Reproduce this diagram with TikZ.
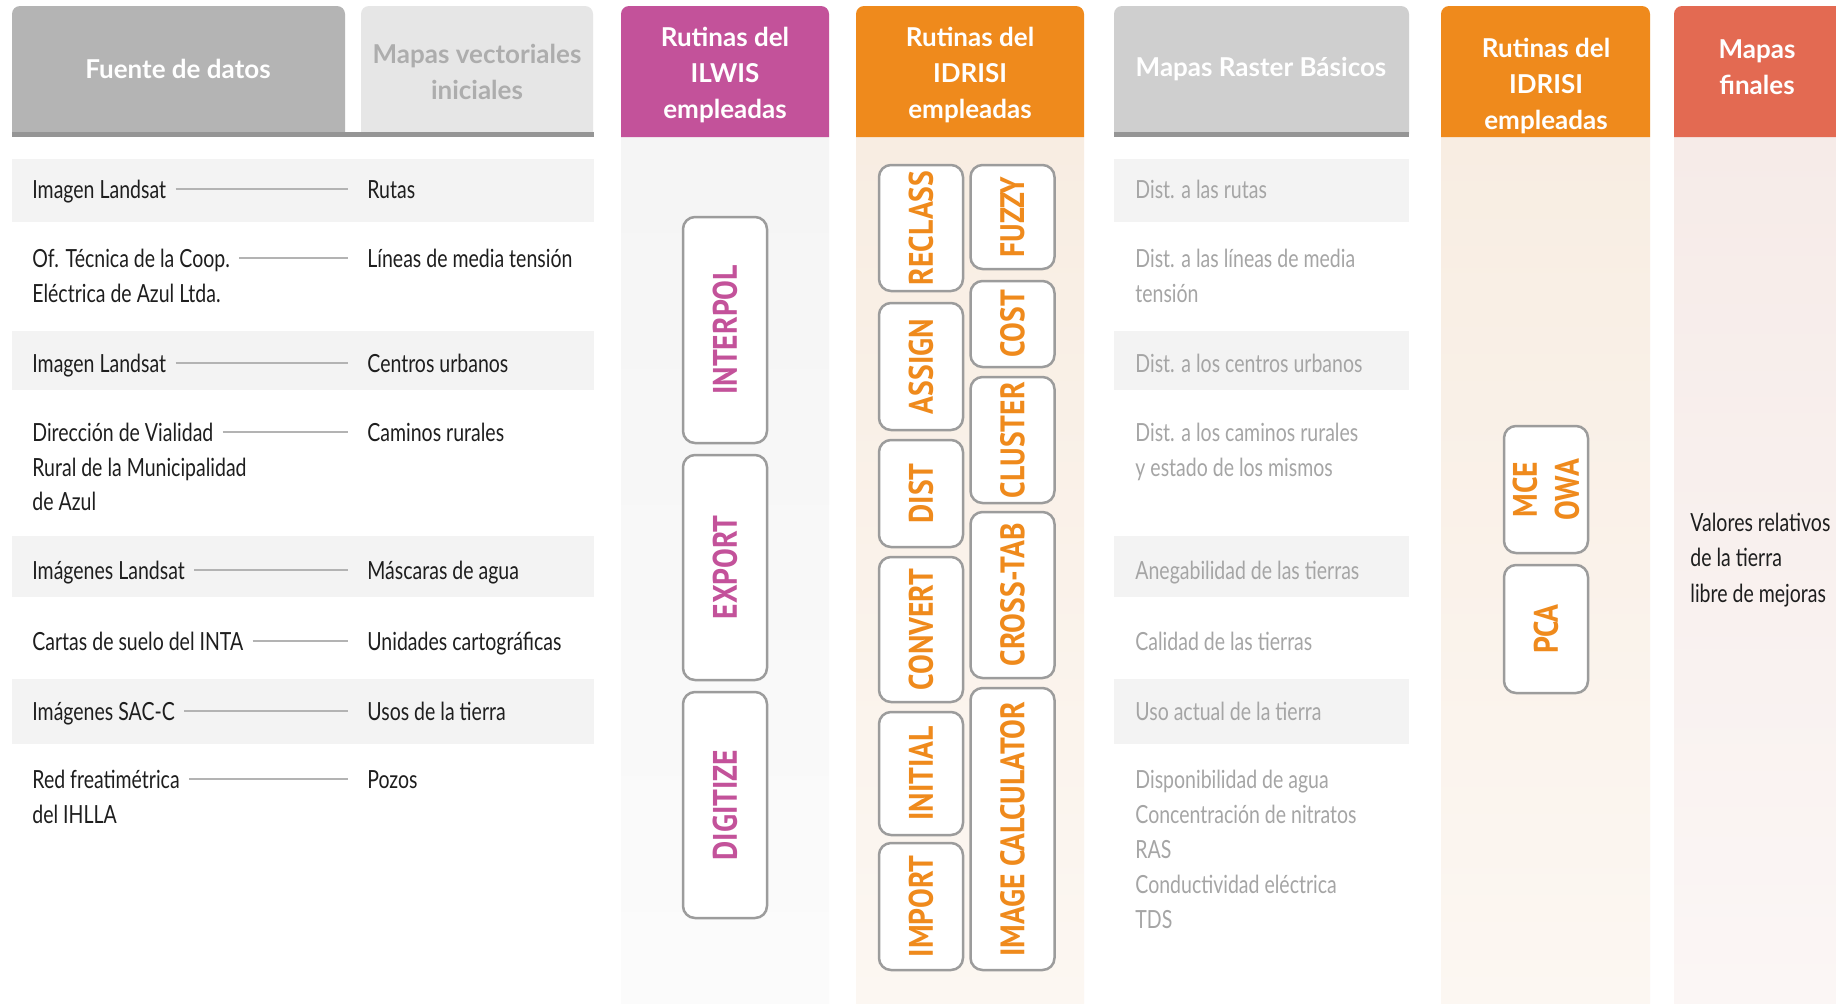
\documentclass[tikz,border=0pt]{standalone}
\usepackage{fontspec}
\newfontfamily\bodyf{Lato}[FakeStretch=0.78]
\newfontfamily\headf{Lato}
\newfontfamily\labf{PT Sans}[FakeStretch=0.87]
\definecolor{txt}{HTML}{1E1E1E}
\definecolor{rtxt}{HTML}{A5A5A5}
\definecolor{rowbg}{HTML}{F3F3F3}
\definecolor{lgray}{HTML}{B3B3B3}
\definecolor{bgray}{HTML}{9C9C9C}
\definecolor{hgrayA}{HTML}{B4B4B4}
\definecolor{hgrayB}{HTML}{E6E6E6}
\definecolor{hgrayC}{HTML}{CFCFCF}
\definecolor{hline}{HTML}{959595}
\definecolor{htxtB}{HTML}{ADADAD}
\definecolor{magen}{HTML}{C3529A}
\definecolor{orng}{HTML}{EF8A1C}
\definecolor{coral}{HTML}{E36A52}
\newcommand\hdrbg[4]{\fill[#4, rounded corners=4pt] (#1,#3) -- (#1,6) -- (#2,6) -- (#2,#3);}
\begin{document}
\begin{tikzpicture}[x=0.5pt,y=-0.5pt,
 body/.style={font=\bodyf\fontsize{12.5pt}{17.5pt}\selectfont, text=txt, inner sep=0pt, text height=11pt, text depth=2pt, anchor=base west},
 rast/.style={body, text=rtxt},
 conn/.style={draw=lgray, line width=1pt, shorten <=4.5pt, shorten >=9.5pt},
 hdr/.style={font=\headf\bfseries\fontsize{13pt}{18pt}\selectfont, text=white, align=center, inner sep=0pt},
 rbox/.style={draw=bgray, line width=1.25pt, fill=white, rounded corners=6pt, rotate=90, inner sep=0pt, align=center, font=\labf\bfseries\fontsize{17pt}{20pt}\selectfont},
 ibox/.style={rbox, text=magen, minimum height=42pt},
 obox/.style={rbox, text=orng, minimum height=42pt},
]
\useasboundingbox (0,0) rectangle (1836,1003);
\fill[white] (0,0) rectangle (1836,1003);
% column bodies
\shade[top color=black!4, bottom color=black!1.5] (621,137) rectangle (829,1003);
\shade[top color={rgb,255:red,248;green,237;blue,226}, bottom color={rgb,255:red,252;green,247;blue,242}] (856,137) rectangle (1084,1003);
\shade[top color={rgb,255:red,248;green,237;blue,226}, bottom color={rgb,255:red,252;green,247;blue,242}] (1441,137) rectangle (1650,1003);
\shade[top color={rgb,255:red,246;green,235;blue,232}, bottom color={rgb,255:red,251;green,246;blue,245}] (1674,137) rectangle (1840,1003);
% shaded rows
\foreach \ya/\yb in {159/222,331/390,536/597,679/744}{
  \fill[rowbg] (12,\ya) rectangle (594,\yb);
  \fill[rowbg] (1114,\ya) rectangle (1409,\yb);
}
% headers
\hdrbg{12}{345}{134}{hgrayA}
\hdrbg{361}{593}{134}{hgrayB}
\hdrbg{621}{829}{137}{magen}
\hdrbg{856}{1084}{137}{orng}
\hdrbg{1114}{1409}{134}{hgrayC}
\hdrbg{1441}{1650}{137}{orng}
\hdrbg{1674}{1845}{137}{coral}
\fill[hline] (12,132) rectangle (594,137);
\fill[hline] (1114,132) rectangle (1409,137);
\node[hdr] (h1) at (178,69) {Fuente de datos};
\node[hdr, text=htxtB] (h2) at (477,72) {Mapas vectoriales\\iniciales};
\node[hdr] (h3) at (725,75) {Rutinas del\\ILWIS\\empleadas};
\node[hdr] (h4) at (970,75) {Rutinas del\\IDRISI\\empleadas};
\node[hdr] (h5) at (1261,69) {Mapas Raster Básicos};
\node[hdr] (h6) at (1546,86) {Rutinas del\\IDRISI\\empleadas};
\node[hdr] (h7) at (1757,67) {Mapas\\finales};
% left texts
\node[body] (l1) at (32,198) {Imagen Landsat};
\node[body] (r1) at (367,198) {Rutas};
\node[body] (l2) at (32,267) {Of. Técnica de la Coop.};
\node[body] (l2b) at (32,302) {Eléctrica de Azul Ltda.};
\node[body] (r2) at (367,267) {Líneas de media tensión};
\node[body] (l3) at (32,372) {Imagen Landsat};
\node[body] (r3) at (367,372) {Centros urbanos};
\node[body] (l4) at (32,441) {Dirección de Vialidad};
\node[body] (l4b) at (32,476) {Rural de la Municipalidad};
\node[body] (l4c) at (32,510) {de Azul};
\node[body] (r4) at (367,441) {Caminos rurales};
\node[body] (l5) at (32,579) {Imágenes Landsat};
\node[body] (r5) at (367,579) {Máscaras de agua};
\node[body] (l6) at (32,650) {Cartas de suelo del INTA};
\node[body] (r6) at (367,650) {Unidades cartográficas};
\node[body] (l7) at (32,720) {Imágenes SAC-C};
\node[body] (r7) at (367,720) {Usos de la tierra};
\node[body] (l8) at (32,788) {Red freatimétrica};
\node[body] (l8b) at (32,823) {del IHLLA};
\node[body] (r8) at (367,788) {Pozos};
\foreach \i in {1,...,8}{\draw[conn] (l\i.east) -- (r\i.west);}
% raster texts
\node[rast] (d1) at (1135,198) {Dist. a las rutas};
\node[rast] (d2) at (1135,267) {Dist. a las líneas de media};
\node[rast] (d2b) at (1135,302) {tensión};
\node[rast] (d3) at (1135,372) {Dist. a los centros urbanos};
\node[rast] (d4) at (1135,441) {Dist. a los caminos rurales};
\node[rast] (d4b) at (1135,476) {y estado de los mismos};
\node[rast] (d5) at (1135,579) {Anegabilidad de las tierras};
\node[rast] (d6) at (1135,650) {Calidad de las tierras};
\node[rast] (d7) at (1135,720) {Uso actual de la tierra};
\node[rast] (d8) at (1135,788) {Disponibilidad de agua};
\node[rast] (d8b) at (1135,823) {Concentración de nitratos};
\node[rast] (d8c) at (1135,858) {RAS};
\node[rast] (d8d) at (1135,893) {Conductividad eléctrica};
\node[rast] (d8e) at (1135,928) {TDS};
% final texts
\node[body] (v1) at (1690,531) {Valores relativos};
\node[body] (v2) at (1690,566) {de la tierra};
\node[body] (v3) at (1690,602) {libre de mejoras};
% ILWIS boxes
\node[ibox, minimum width=113pt] (interpol) at (725,330) {INTERPOL};
\node[ibox, minimum width=112.5pt] (export) at (725,567.5) {EXPORT};
\node[ibox, minimum width=113pt] (digitize) at (725,805) {DIGITIZE};
% IDRISI boxes left
\node[obox, minimum width=63pt] (reclass) at (921,228) {RECLASS};
\node[obox, minimum width=63.5pt] (assign) at (921,366.5) {ASSIGN};
\node[obox, minimum width=53.5pt] (dist) at (921,493.5) {DIST};
\node[obox, minimum width=72.5pt] (convert) at (921,629.5) {CONVERT};
\node[obox, minimum width=61.5pt] (initial) at (921,773.5) {INITIAL};
\node[obox, minimum width=63.5pt] (import) at (921,906.5) {IMPORT};
% IDRISI boxes right
\node[obox, minimum width=52pt] (fuzzy) at (1012.5,217) {FUZZY};
\node[obox, minimum width=43pt] (cost) at (1012.5,324) {COST};
\node[obox, minimum width=63pt] (cluster) at (1012.5,440) {CLUSTER};
\node[obox, minimum width=83pt] (crosstab) at (1012.5,595) {CROSS-TAB};
\node[obox, minimum width=141pt] (imagecalc) at (1012.5,829) {IMAGE CALCULATOR};
% IDRISI 2 boxes
\node[obox, minimum width=63.5pt, font=\labf\bfseries\fontsize{17pt}{21pt}\selectfont] (mceowa) at (1546,489.5) {MCE\\OWA};
\node[obox, minimum width=64pt] (pca) at (1546,629) {PCA};
\end{tikzpicture}
\end{document}
